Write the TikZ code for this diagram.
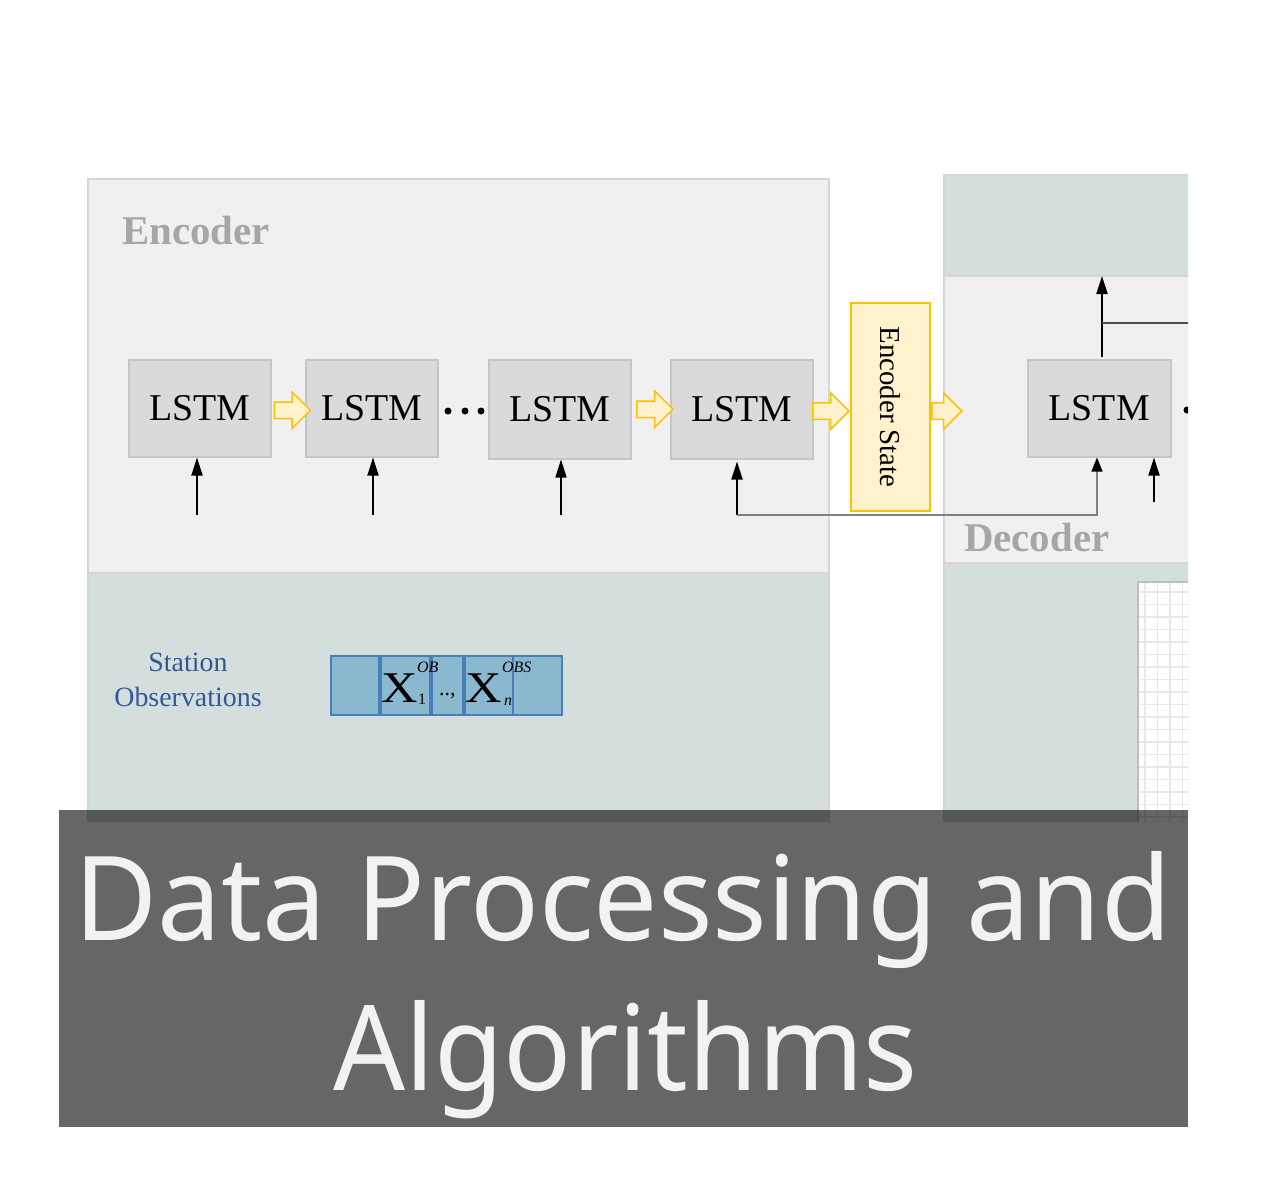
\documentclass[tikz,border=0pt]{standalone}
\usepackage{fontspec}
\setmainfont{Liberation Serif}
\newfontfamily\bannerfont{Noto Sans}
\usetikzlibrary{arrows.meta,shapes.arrows,calc}
\definecolor{panellight}{HTML}{F0F0F0}
\definecolor{panelteal}{HTML}{D4DEDD}
\definecolor{panelline}{HTML}{D6D6D6}
\definecolor{lstmfill}{HTML}{DADADA}
\definecolor{lstmline}{HTML}{C6C6C6}
\definecolor{esfill}{HTML}{FFF2CC}
\definecolor{esline}{HTML}{FFC000}
\definecolor{obsfill}{HTML}{8AB9CF}
\definecolor{obsline}{HTML}{4A7EBB}
\definecolor{obstext}{HTML}{33589A}
\definecolor{titlegray}{HTML}{A6A6A6}
\definecolor{gridline}{HTML}{E8E8E8}
\definecolor{bannertext}{HTML}{F2F2F2}
\begin{document}
\begin{tikzpicture}[x=1bp,y=-1bp,
  lstm/.style={draw=lstmline, line width=1.5bp, fill=lstmfill, minimum height=97bp,
    inner sep=0, anchor=north west, font=\fontsize{38}{40}\selectfont},
  yarrow/.style={single arrow, draw=esline, fill=esfill, line width=1.5bp,
    minimum height=36bp, inner xsep=0, inner ysep=7.5bp, single arrow head extend=10bp,
    single arrow tip angle=90, anchor=center},
  esbox/.style={draw=esline, fill=esfill, line width=2bp, minimum width=79bp,
    minimum height=208bp, inner sep=0, anchor=north west, font=\fontsize{29}{30}\selectfont},
  uparrow/.style={draw=black, line width=1.8bp, -{Triangle[length=18bp,width=11bp]}},
  grayline/.style={draw=black!50, line width=1.2bp},
  obsbox/.style={draw=obsline, fill=obsfill, line width=1.6bp, minimum height=59bp,
    inner sep=0, anchor=north west},
  paneltitle/.style={anchor=base west, inner sep=0, text=titlegray,
    font=\bfseries\fontsize{41}{41}\selectfont},
  obslabel/.style={anchor=base, inner sep=0, text=obstext, font=\fontsize{28}{30}\selectfont},
  bigx/.style={anchor=base west, inner sep=0, font=\fontsize{44}{44}\selectfont},
  smallsup/.style={anchor=base west, inner sep=0, font=\itshape\fontsize{16}{16}\selectfont}
]
\useasboundingbox (0,0) rectangle (1281,1193);
\fill[white] (0,0) rectangle (1281,1193);

% ---------------- Encoder panel
\fill[panellight] (88,179) rectangle (829,573);
\fill[panelteal] (88,573) rectangle (829,822);
\draw[panelline, line width=2bp] (88,822) -- (88,179) -- (829,179) -- (829,822);
\draw[panelline, line width=2bp] (88,573) -- (829,573);
\node[paneltitle] (enc) at (122,244) {Encoder};

% LSTM cells
\node[lstm, minimum width=142bp] (l1) at (128,359) {LSTM};
\node[lstm, minimum width=132bp] (l2) at (305,359) {LSTM};
\node[lstm, minimum width=142bp, minimum height=99bp] (l3) at (488,359) {LSTM};
\node[lstm, minimum width=142bp, minimum height=99bp] (l4) at (670,359) {LSTM};

% ellipsis dots
\fill (448,411) circle[radius=3.5bp];
\fill (465,411) circle[radius=3.5bp];
\fill (481,411) circle[radius=3.5bp];

% Encoder State
\node[esbox] (es) at (850,302) {\rotatebox{-90}{Encoder State}};

% yellow block arrows
\node[yarrow] (y12) at ($(l1.east)!0.5!(l2.west)+(0,2)$) {};
\node[yarrow] (y34) at ($(l3.east)!0.5!(l4.west)$) {};
\node[yarrow, anchor=east] (y4e) at ($(es.west)+(0,4)$) {};

% inputs
\coordinate (i1) at (197,515);
\coordinate (i2) at (373,515);
\coordinate (i3) at (561,515);
\coordinate (i4) at (737,515);
\draw[uparrow] (i1) -- (i1 |- l1.south);
\draw[uparrow] (i2) -- (i2 |- l2.south);
\draw[uparrow, line width=1.5bp] (i3) -- (i3 |- l3.south);
\draw[uparrow] (i4) -- ($(i4 |- l4.south)+(0,2)$);

% ---------------- Station observations
\node[obslabel] (st1) at (188,671) {Station};
\node[obslabel] (st2) at (188,706) {Observations};
\node[obsbox, minimum width=48bp] (o1) at (330,655) {};
\node[obsbox, minimum width=49bp] (o2) at (380,655) {};
\node[obsbox, minimum width=31bp] (o3) at (431,655) {};
\node[obsbox, minimum width=48bp] (o4) at (464,655) {};
\node[obsbox, minimum width=49bp] (o5) at (512,655) {};
\node[bigx] (x1) at (381,702) {\scalebox{1.15}[1]{X}};
\node[anchor=base west, inner sep=0, font=\fontsize{16}{16}\selectfont] (x1s) at (418,704) {1};
\node[smallsup] (x1p) at (417,672) {OB};
\node[anchor=base west, inner sep=0, font=\fontsize{22}{22}\selectfont] (xd) at (439,695) {..,};
\node[bigx] (xn) at (465,702) {\scalebox{1.15}[1]{X}};
\node[smallsup] (xns) at (504,705) {n};
\node[smallsup] (xnp) at (502,672) {OBS};

% ---------------- Decoder panel (cut at the right)
\begin{scope}
\clip (0,0) rectangle (1188,1193);
\fill[panelteal] (944,175) rectangle (1200,276);
\fill[panellight] (944,276) rectangle (1200,563);
\fill[panelteal] (944,563) rectangle (1200,822);
\draw[panelline, line width=2bp] (944,822) -- (944,175) -- (1200,175);
\draw[panelline, line width=2bp] (944,276) -- (1200,276);
\draw[panelline, line width=2bp] (944,563) -- (1200,563);
\node[paneltitle] (dec) at (964,551) {Decoder};
\node[lstm, minimum width=143bp] (dl) at (1027,359) {LSTM};
\fill (1187,410) circle[radius=3.5bp];
% grid panel
\fill[white] (1138,582) rectangle (1200,822);
\foreach \gx in {1145,1157.5,...,1200} \draw[gridline, line width=1.5bp] (\gx,582) -- (\gx,822);
\foreach \gy in {592,604.5,...,822} \draw[gridline, line width=1.5bp] (1138,\gy) -- (1200,\gy);
\draw[black!25, line width=1.5bp] (1138,822) -- (1138,582) -- (1200,582);
% decoder arrows
\coordinate (dup) at (1102,357);
\coordinate (dtop) at (1102,276);
\draw[uparrow, line width=2.2bp] (dup) -- (dtop);
\coordinate (br) at (1102,323);
\coordinate (brend) at (1200,323);
\draw[black!70, line width=1.5bp] (br) -- (brend);
\coordinate (din) at (1154,502);
\draw[uparrow] (din) -- (din |- dl.south);
\end{scope}

% encoder state -> decoder block arrow (on top of the decoder panel edge)
\node[yarrow, minimum height=30bp, anchor=west] (ye) at ($(es.east)+(0,4)$) {};

% encoder -> decoder connector
\coordinate (dx) at (1097,515);
\draw[grayline, -{Triangle[length=14bp,width=11bp,color=black]}] (i4) -- (dx) -- (dx |- dl.south);

% ---------------- Banner
\fill[black, fill opacity=0.6] (59,810) rectangle (1188,1127);
\node[anchor=base west, inner sep=0, text=bannertext] (t1) at (74,940)
  {\resizebox{1096bp}{89bp}{\bannerfont Data Processing and}};
\node[anchor=base west, inner sep=0, text=bannertext] (t2) at (333,1090)
  {\resizebox{584bp}{90bp}{\bannerfont Algorithms}};
\end{tikzpicture}
\end{document}
